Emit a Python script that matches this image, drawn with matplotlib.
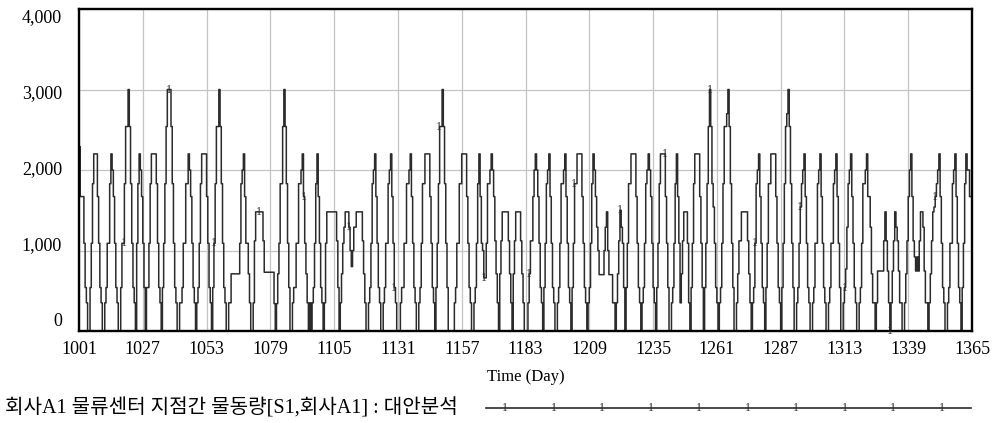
import numpy as np
import matplotlib
matplotlib.use("Agg")
import matplotlib.pyplot as plt

plt.rcParams['font.family'] = ['Liberation Serif', 'Noto Sans CJK KR', 'DejaVu Sans']

# half-day values (Time 1001 .. 1365)
flow = [
    2290, 1670, 1670, 1670, 1090, 540, 350, 0, 0, 540, 1090, 1830, 2200, 2200, 2200,
    1670, 1090, 540, 350, 0, 0,
    350, 540, 1090, 1090, 1830, 2200, 2000,
    1670, 1090, 540, 350, 0, 0,
    540, 1090, 1090, 1830, 2540, 2540, 3000,
    2540, 1830, 1090, 540, 350, 0,
    1090, 1830, 2200, 2000,
    1670, 1090, 540, 0,
    540, 540, 1090, 1830, 2200, 2200, 2200, 2200,
    1830, 1090, 540, 350, 0,
    540, 1090, 1830, 2540, 3000, 3000, 3000,
    2540, 1830, 1090, 540, 350, 0, 0, 350, 350, 540, 1090, 1090, 1830, 1830, 2200, 2000,
    1670, 1090, 540, 350, 0, 350, 540, 1090, 1830, 2200, 2200, 2200, 2200,
    1670, 1090, 540, 350, 0, 540, 1090, 1830, 2540, 2540, 3000,
    2540, 1830, 1090, 540, 350, 0,
    0, 350, 350, 710, 710, 710, 710, 710, 710, 710, 1090, 1830, 2000, 2200,
    1670, 1090, 1090, 710, 350, 0, 0,
    350, 1120, 1480, 1480, 1480, 1480, 1480, 1480,
    1120, 730, 730, 730, 730, 730, 730, 730, 730, 340, 0,
    340, 710, 1090, 1830, 1830, 2540, 3000,
    2540, 1830, 1090, 540, 0,
    0, 350, 540, 540, 1090, 1090, 1830, 1830, 2000, 2200,
    1670, 1090, 710, 350, 0, 350, 0, 350, 540, 1090, 1830, 2200,
    1670, 1090, 540, 350, 0, 350, 1090, 1480, 1480, 1480, 1480, 1480, 1480, 1480, 1480,
    1120, 540, 0,
    350, 710, 1090, 1290, 1480, 1480, 1480,
    1290, 1000, 800, 1000, 1290, 1290, 1480, 1480, 1480, 1480, 1480,
    1120, 710, 350, 0,
    0, 350, 540, 1090, 1830, 2000, 2200,
    1670, 1090, 540, 350, 0, 0, 350, 540, 1090, 1090, 1830, 2000, 2200,
    1670, 1090, 540, 350, 0, 0, 0, 350, 540, 540, 1090, 1090, 1830, 1830, 2000, 2200,
    1670, 1090, 540, 350, 0, 0, 350, 540, 1090, 1830, 1830, 2200, 2200, 2200, 2200,
    1670, 1090, 540, 350, 0, 540, 1090, 1830, 2540, 2540, 3000,
    2540, 1830, 1090, 540, 0,
    0, 0, 0, 0, 350, 540, 1090, 1090, 1830, 1830, 2200, 2200, 2200, 2200,
    1670, 1090, 540, 350, 0, 0, 350, 540, 1090, 1830, 2200,
    1670, 1090, 1000, 660, 660, 1090, 1830, 1830, 2000, 2200,
    2000, 1670, 1120, 710, 350, 0,
    710, 1120, 1480, 1480, 1480, 1480, 1480,
    1120, 710, 350, 0,
    710, 1120, 1480, 1480, 1480, 1480,
    1120, 710, 350, 0,
    0, 0, 350, 710, 1120, 1120, 1670, 2000, 2200,
    2000, 1670, 1090, 540, 350, 0,
    540, 1090, 1830, 2000, 2200,
    1670, 1090, 540, 350, 0, 0, 350, 540, 1090, 1830, 1830, 2000, 2200,
    1670, 1090, 540, 350, 0, 540, 1090, 1830, 1830, 2200, 2200, 2200, 2200,
    1670, 1090, 540, 350, 0, 350, 540, 1090, 1830, 2200, 2000,
    1670, 1290, 1000, 700, 700, 700, 700, 1000, 1290, 1480, 1000, 700, 700, 700, 350, 350, 0,
    350, 710, 1120, 1500, 1290, 1090, 540, 0,
    540, 1090, 1830, 1830, 2200, 2200, 2200, 2200,
    1670, 1090, 540, 350, 0,
    350, 540, 1090, 1830, 2000, 2200,
    2000, 1670, 1090, 540, 350, 0,
    540, 1090, 1830, 2200, 2200, 2200, 2200,
    1670, 1090, 540, 0,
    0, 350, 540, 1090, 1830, 2200,
    1670, 1090, 350, 710, 1120, 1480, 1480, 1480, 1090, 350, 0,
    540, 1090, 1830, 2200, 2200, 2200, 2200,
    1670, 1090, 540, 0,
    540, 1090, 1830, 2540, 3000,
    2540, 1830, 1540, 1090, 540, 350, 0,
    350, 540, 1090, 1830, 2540, 2540, 2700, 3000,
    2540, 1830, 1090, 540, 0,
    0, 350, 710, 1120, 1120, 1480, 1480, 1480, 1480, 1480,
    1120, 710, 350, 0,
    350, 540, 1090, 1830, 2000, 2200,
    1670, 1090, 540, 350, 0,
    540, 1090, 1830, 1830, 2200, 2200, 2200, 2200,
    1670, 1090, 540, 350, 0,
    540, 1090, 1830, 2540, 2700, 3000,
    2540, 1830, 1090, 540, 0,
    0, 350, 540, 1090, 1540, 1830, 2000, 2200,
    1670, 1090, 540, 350, 0, 0,
    350, 540, 1090, 1090, 1830, 2000, 2200,
    1670, 1090, 540, 350, 0,
    0, 350, 540, 1090, 1090, 1830, 2000, 2200,
    1670, 1090, 540, 0,
    0, 350, 540, 770, 1290, 1830, 2000, 2200,
    1670, 1090, 540, 350, 0, 0,
    350, 540, 1090, 1830, 1830, 2000, 2200,
    1670, 1670, 1290, 710, 350, 350, 0,
    350, 745, 745, 745, 745, 745, 1120, 1480, 1120, 745, 350, 0,
    350, 745, 1120, 1480, 1290, 1120, 745, 350, 350, 0, 0,
    350, 710, 1120, 1670, 2000, 2200,
    1670, 1120, 920, 745, 920, 745, 1120, 1480, 1480, 1290, 745, 350, 350, 0,
    350, 710, 1120, 1480, 1540, 1670, 1830, 2000, 2200,
    1670, 1090, 540, 350, 0, 0,
    350, 540, 1090, 1090, 1830, 2000, 2200,
    1670, 1090, 540, 350, 0,
    540, 1090, 1830, 2200, 2000, 2000, 1670, 1670, 1290,
]
days = 1001 + 0.5 * np.arange(len(flow))

x_ticks = list(range(1001, 1366, 26))
y_ticks = [0, 1000, 2000, 3000, 4000]
y_labels = ['0', '1,000', '2,000', '3,000', '4,000']
marker_days = [1019.1 + 18.38 * k for k in range(19)]
legend_label = '회사A1 물류센터 지점간 물동량[S1,회사A1] : 대안분석'

fig = plt.figure(figsize=(10, 4.23), dpi=100)
ax = fig.add_axes([0.079, 0.2175, 0.893, 0.7612])
line_col = '#2b2b2b'

ax.step(days, flow, where='post', color=line_col, lw=1.1)
for d in marker_days:
    v = flow[int(round((d - 1001) * 2))]
    ax.text(d, v, '1', fontsize=8.5, ha='center', va='center', color=line_col, clip_on=False)

ax.set_xlim(1001, 1365)
ax.set_ylim(0, 4000)
ax.set_xticks(x_ticks)
ax.set_xticklabels([str(t) for t in x_ticks], fontsize=13)
ax.set_yticks(y_ticks)
ax.set_yticklabels([])
ax.tick_params(length=0, pad=7)
ax.grid(True, color='#c4c4c4', lw=0.9)
ax.set_axisbelow(True)
for s in ax.spines.values():
    s.set_linewidth(1.7)
    s.set_color('black')

# Vensim spreads the value labels a little inside the frame
for v, lab in zip(y_ticks, y_labels):
    frac = 0.031 + v / 4000 * 0.941
    ax.text(-0.019, frac, lab, transform=ax.transAxes, ha='right', va='center', fontsize=13)

ax.set_xlabel('Time (Day)', fontsize=12, labelpad=8)

# legend row
ly = 1 - 408 / 423
fig.text(0.005, ly, legend_label, fontsize=14.5, va='center', ha='left')
fig.add_artist(plt.Line2D([0.486, 0.971], [ly, ly], color=line_col, lw=1.2))
for k in range(10):
    fig.text(0.505 + 0.0485 * k, ly, '1', fontsize=8.5, ha='center', va='center', color=line_col)

fig.savefig('out.png', dpi=100)
